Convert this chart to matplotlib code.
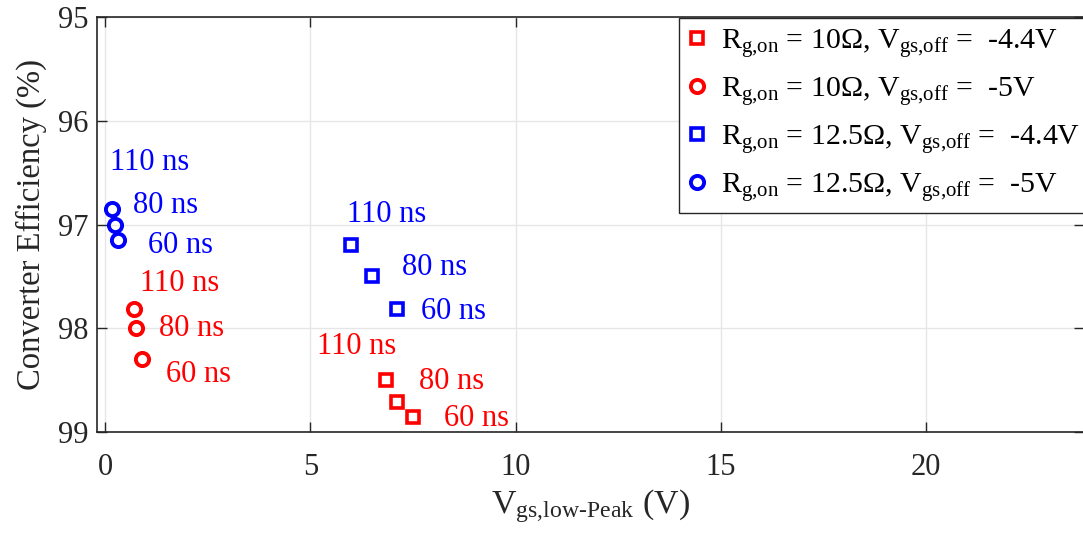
import matplotlib
matplotlib.use("Agg")
import matplotlib.pyplot as plt

plt.rcParams['font.family'] = ['Liberation Serif', 'DejaVu Serif']
plt.rcParams['mathtext.fontset'] = 'custom'
plt.rcParams['mathtext.rm'] = 'Liberation Serif'
plt.rcParams['mathtext.it'] = 'Liberation Serif:italic'

# Data
dead_times = ["110 ns", "80 ns", "60 ns"]

r10_44_x = [6.85, 7.1, 7.5]
r10_44_y = [98.5, 98.71, 98.86]
r10_5_x = [0.71, 0.76, 0.9]
r10_5_y = [97.81, 98.0, 98.3]
r125_44_x = [6.0, 6.5, 7.1]
r125_44_y = [97.2, 97.5, 97.81]
r125_5_x = [0.16, 0.24, 0.30]
r125_5_y = [96.85, 97.0, 97.15]

# label anchor positions (data coords)
lab_r10_44 = [(5.15, 98.18), (7.64, 98.51), (8.25, 98.87)]
lab_r10_5 = [(0.85, 97.57), (1.30, 98.0), (1.49, 98.45)]
lab_r125_44 = [(5.88, 96.9), (7.22, 97.41), (7.70, 97.84)]
lab_r125_5 = [(0.12, 96.4), (0.68, 96.82), (1.04, 97.2)]

legend_labels = [
    r'R$_{\mathrm{g{,}on}}$ = 10Ω, V$_{\mathrm{gs{,}off}}$ =  -4.4V',
    r'R$_{\mathrm{g{,}on}}$ = 10Ω, V$_{\mathrm{gs{,}off}}$ =  -5V',
    r'R$_{\mathrm{g{,}on}}$ = 12.5Ω, V$_{\mathrm{gs{,}off}}$ =  -4.4V',
    r'R$_{\mathrm{g{,}on}}$ = 12.5Ω, V$_{\mathrm{gs{,}off}}$ =  -5V',
]

RED = '#ff0000'
BLUE = '#0000ff'

fig = plt.figure(figsize=(10.83, 5.35), dpi=100)
ax = fig.add_axes([97/1083, 1-432/535, (1084-97)/1083, (432-17)/535])

ax.plot(r10_44_x, r10_44_y, ls='none', marker='s', ms=8, mew=2.6, mfc='none', mec=RED, label=legend_labels[0])
ax.plot(r10_5_x, r10_5_y, ls='none', marker='o', ms=9.5, mew=2.8, mfc='none', mec=RED, label=legend_labels[1])
ax.plot(r125_44_x, r125_44_y, ls='none', marker='s', ms=8, mew=2.6, mfc='none', mec=BLUE, label=legend_labels[2])
ax.plot(r125_5_x, r125_5_y, ls='none', marker='o', ms=9.5, mew=2.8, mfc='none', mec=BLUE, label=legend_labels[3])

for labs, col in [(lab_r10_44, RED), (lab_r10_5, RED), (lab_r125_44, BLUE), (lab_r125_5, BLUE)]:
    for (lx, ly), t in zip(labs, dead_times):
        ax.text(lx, ly, t, color=col, fontsize=22, ha='left', va='center')

ax.set_xlim(-0.2, 23.85)
ax.set_ylim(99, 95)
ax.set_xticks([0, 5, 10, 15, 20])
ax.set_yticks([95, 96, 97, 98, 99])
ax.grid(True, color='#e6e6e6', linewidth=1)
ax.set_axisbelow(True)
ax.tick_params(direction='in', length=7, width=1, top=True, right=True,
               labelsize=22, labelcolor='#262626', colors='#262626')
ax.tick_params(axis='x', pad=15)
ax.tick_params(axis='y', pad=6)
for s in ax.spines.values():
    s.set_color('#262626')
    s.set_linewidth(1.2)

ax.set_ylabel('Converter Efficiency (%)', fontsize=23.5, color='#262626', labelpad=8)
ax.set_xlabel(r'V$_{\mathrm{gs{,}low\text{-}Peak}}$ (V)', fontsize=24.5, color='#262626', labelpad=4)

leg = fig.legend(loc='upper left', bbox_to_anchor=(679/1083, 1-18/535), bbox_transform=fig.transFigure,
                 fontsize=21.5, frameon=True, fancybox=False, edgecolor='#262626', framealpha=1,
                 handlelength=0.6, handletextpad=0.5, labelspacing=0.5, borderpad=0.3, borderaxespad=0)
leg.get_frame().set_linewidth(1)

fig.savefig('out.png', dpi=100)
